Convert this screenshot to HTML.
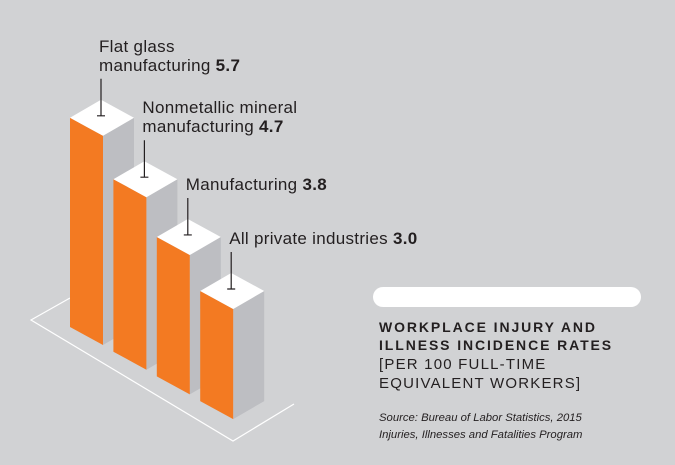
<!DOCTYPE html>
<html><head><meta charset="utf-8"><style>
html,body{margin:0;padding:0;background:#d1d2d4;}
svg{display:block;font-family:"Liberation Sans",sans-serif;}
</style></head><body>
<svg id="chart" width="675" height="465" viewBox="0 0 675 465">
<rect width="675" height="465" fill="#d1d2d4"/>
<polyline points="70,298 31,320 233,441 294,404" fill="none" stroke="#ffffff" stroke-width="1.2"/>
<g id="bars"></g>
<g id="labels"></g>
<rect x="373" y="287" width="268" height="20" rx="10" fill="#ffffff"/>
<g fill="#231f20">
<text x="379" y="332" font-size="14" font-weight="bold" letter-spacing="1.9">WORKPLACE INJURY AND</text>
<text x="379" y="350" font-size="14" font-weight="bold" letter-spacing="1.9">ILLNESS INCIDENCE RATES</text>
<text x="379" y="369" font-size="15" letter-spacing="1.2">[PER 100 FULL-TIME</text>
<text x="379" y="388" font-size="15" letter-spacing="1.2">EQUIVALENT WORKERS]</text>
</g>
<g fill="#231f20" font-style="italic" font-size="11.3">
<text x="379" y="421">Source: Bureau of Labor Statistics, 2015</text>
<text x="379" y="438">Injuries, Illnesses and Fatalities Program</text>
</g>
</svg>
<script>
const categories = ["Flat glass manufacturing", "Nonmetallic mineral manufacturing", "Manufacturing", "All private industries"];
const labelLines = [["Flat glass", "manufacturing"], ["Nonmetallic mineral", "manufacturing"], ["Manufacturing"], ["All private industries"]];
const values = [5.7, 4.7, 3.8, 3.0];
const valueLabels = ["5.7", "4.7", "3.8", "3.0"];

const NS = "http://www.w3.org/2000/svg";
const pxPerUnit = 36.7;
function yScale(v){ return v * pxPerUnit; }
function baseX(i){ return 70 + i * 43.4; }
function baseY(i){ return 327 + i * 24.7; }
const FW = 33, FD = 18, SW = 31, SD = 18;
const bars = document.getElementById('bars');
const labels = document.getElementById('labels');
function mk(tag, attrs, parent){ const e = document.createElementNS(NS, tag); for (const k in attrs) e.setAttribute(k, attrs[k]); parent.appendChild(e); return e; }

values.forEach((v, i) => {
  const x = baseX(i), yb = baseY(i), h = yScale(v), yt = yb - h;
  const g = mk('g', {}, bars);
  
  
  const side = mk('polygon', {points: `${x+FW},${yt+FD} ${x+FW+SW},${yt+FD-SD} ${x+FW+SW},${yb+FD-SD} ${x+FW},${yb+FD}`, fill: '#bdbec2'}, g);
  
  
  const front = mk('polygon', {points: `${x},${yt} ${x+FW},${yt+FD} ${x+FW},${yb+FD} ${x},${yb}`, fill: '#f37a22'}, g);
  
  
  const top = mk('polygon', {points: `${x},${yt} ${x+SW},${yt-SD} ${x+FW+SW},${yt+FD-SD} ${x+FW},${yt+FD}`, fill: '#ffffff'}, g);
  
  

  const lx = x + 31, ly = yt - 2;
  const lg = mk('g', {}, labels);
  
  
  const lead = mk('path', {d: `M${lx},${ly} V${ly-37} M${lx-4},${ly} H${lx+4}`, stroke: '#231f20', 'stroke-width': 1.2, fill: 'none'}, lg);
  
  
  const lines = labelLines[i];
  const lastY = ly - 45;
  lines.forEach((ln, j) => {
    const t = mk('text', {x: lx - 2, y: lastY - (lines.length - 1 - j) * 19, 'font-size': 17, 'letter-spacing': 0.3, fill: '#231f20'}, lg);
    
    
    t.textContent = ln;
    if (j === lines.length - 1) {
      const b = document.createElementNS(NS, 'tspan');
      b.setAttribute('font-weight', 'bold');
      b.textContent = ' ' + valueLabels[i];
      t.appendChild(b);
    }
  });
});
</script>
</body></html>
